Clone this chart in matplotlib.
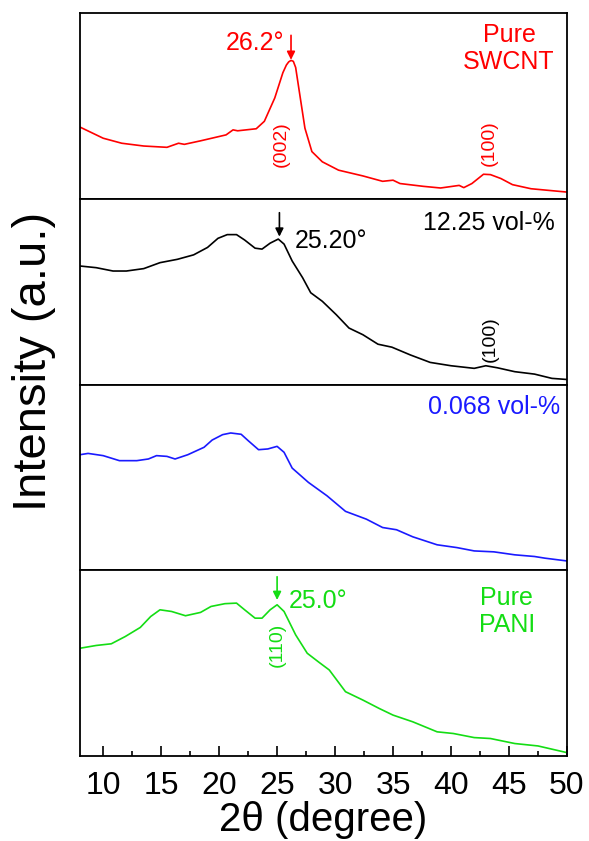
import numpy as np
import matplotlib
matplotlib.use("Agg")
import matplotlib.pyplot as plt
from matplotlib.ticker import MultipleLocator

plt.rcParams["font.family"] = ["Liberation Sans", "DejaVu Sans"]

# ---------------------------------------------------------------------------
# data (intensity in % of panel height)
# ---------------------------------------------------------------------------
swcnt_x = [8, 10, 11.6, 13.5, 15.5, 16.5, 17.0, 18.4, 20.6, 21.2, 21.6, 23.2, 23.9,
           24.8, 25.5, 25.8, 26.0, 26.2, 26.4, 26.6, 27.0, 27.4, 28.0, 28.9, 30.3,
           32.4, 34.1, 35.0, 35.6, 37.6, 39.1, 40.7, 41.1, 41.8, 42.8, 43.4, 44.3,
           45.3, 46.9, 50]
swcnt_y = [38.6, 32.6, 29.9, 28.4, 27.7, 29.9, 29.3, 31.2, 34.4, 37.1, 36.6, 37.7, 41.7,
           54.3, 67.9, 72.0, 73.7, 74.5, 74.0, 70.7, 54.3, 38.0, 25.4, 19.9, 15.4,
           12.3, 9.4, 10.0, 8.2, 6.7, 5.8, 7.2, 6.0, 8.2, 13.2, 13.0, 10.9,
           7.6, 5.4, 3.6]

c1225_x = [8, 9.4, 10.85, 12.0, 13.5, 14.9, 16.4, 17.8, 19.0, 19.9, 20.7, 21.5, 22.2,
           23.1, 23.7, 24.4, 25.1, 25.6, 26.3, 27.2, 27.9, 28.9, 30.1, 31.2, 32.4,
           33.7, 34.9, 36.5, 38.2, 40.0, 42.0, 43.0, 44.0, 45.5, 47.2, 48.7, 50]
c1225_y = [63.8, 62.9, 61.1, 61.1, 62.4, 65.6, 67.4, 69.8, 73.8, 78.7, 80.7, 80.7, 77.8,
           73.4, 72.9, 76.1, 78.3, 75.6, 66.5, 57.5, 49.4, 44.8, 37.6, 30.4, 26.8,
           21.7, 20.1, 15.9, 11.9, 10.1, 8.7, 10.1, 9.0, 6.9, 5.6, 3.3, 2.7]

c0068_x = [8, 8.7, 10.0, 11.4, 12.9, 13.9, 14.6, 15.5, 16.2, 17.3, 18.7, 19.4, 20.3,
           21.0, 21.9, 22.5, 23.4, 24.2, 25.0, 25.6, 26.3, 27.7, 29.3, 30.9, 32.7,
           34.1, 35.3, 36.7, 38.8, 40.5, 42.0, 43.7, 45.5, 47.2, 48.1, 50]
c0068_y = [62.2, 62.9, 61.7, 59.0, 59.0, 59.9, 61.7, 61.3, 59.9, 62.2, 66.2, 70.1, 73.0,
           73.9, 73.2, 69.8, 64.9, 65.3, 66.7, 63.5, 55.0, 47.3, 40.1, 31.7, 27.5,
           23.0, 21.8, 18.0, 13.7, 12.2, 10.4, 9.9, 8.3, 7.4, 6.5, 5.0]

pani_x = [8, 9.4, 10.7, 11.9, 13.2, 14.1, 14.9, 15.9, 17.1, 18.4, 19.3, 20.5, 21.5,
          22.2, 23.1, 23.7, 24.4, 25.0, 25.6, 26.6, 27.6, 28.6, 29.5, 30.9, 32.4,
          33.8, 35.0, 36.7, 38.8, 40.2, 42.0, 43.4, 45.5, 47.5, 50]
pani_y = [58.0, 59.5, 60.4, 64.3, 69.2, 75.1, 78.7, 77.8, 75.5, 77.3, 80.5, 82.0, 82.3,
          78.7, 74.2, 74.2, 78.7, 81.4, 77.8, 65.2, 55.3, 50.5, 46.3, 34.6, 30.1,
          25.6, 22.0, 18.4, 13.0, 12.1, 9.9, 9.4, 6.7, 5.4, 1.8]

RED, BLACK, BLUE, GREEN = "#ff0000", "#000000", "#1a1aff", "#14dd14"

fig, axes = plt.subplots(4, 1, sharex=True, figsize=(5.89, 8.41), dpi=100)
fig.subplots_adjust(left=0.1358, right=0.9626, top=0.9845, bottom=0.1011, hspace=0)

series = [(swcnt_x, swcnt_y, RED), (c1225_x, c1225_y, BLACK),
          (c0068_x, c0068_y, BLUE), (pani_x, pani_y, GREEN)]
for ax, (x, y, c) in zip(axes, series):
    ax.plot(x, y, color=c, lw=1.2)
    ax.set_xlim(8, 50)
    ax.set_ylim(0, 100)
    ax.set_yticks([])
    for sp in ax.spines.values():
        sp.set_linewidth(1.3)
    ax.tick_params(axis="x", which="both", bottom=False, labelbottom=False)

bot = axes[-1]
bot.xaxis.set_major_locator(MultipleLocator(5))
bot.xaxis.set_minor_locator(MultipleLocator(2.5))
bot.set_xticks(range(10, 51, 5))
bot.tick_params(axis="x", which="both", bottom=True, labelbottom=True, direction="in",
                labelsize=23, pad=11, width=1.2)
bot.tick_params(axis="x", which="major", length=7)
bot.tick_params(axis="x", which="minor", length=3.5)
bot.set_xlabel("2\u03b8 (degree)", fontsize=29, labelpad=0)
fig.text(0.058, 0.57, "Intensity (a.u.)", rotation=90, fontsize=34,
         ha="center", va="center")

arrow = dict(arrowstyle="-|>", lw=1.2, mutation_scale=12, shrinkA=0, shrinkB=0)
fs = 18

# pure SWCNT
ax = axes[0]
ax.text(45.0, 81, "Pure\nSWCNT", color=RED, fontsize=fs, ha="center", va="center",
        linespacing=1.15)
ax.text(25.6, 84, "26.2\u00b0", color=RED, fontsize=fs, ha="right", va="center")
ax.annotate("", xy=(26.2, 74.8), xytext=(26.2, 88), arrowprops=dict(arrow, color=RED))
ax.text(25.4, 29.5, "(002)", color=RED, fontsize=14, rotation=90, ha="center", va="center")
ax.text(43.3, 30, "(100)", color=RED, fontsize=14, rotation=90, ha="center", va="center")

# 12.25 vol-%
ax = axes[1]
ax.text(43.3, 87, "12.25 vol-%", color=BLACK, fontsize=fs, ha="center", va="center")
ax.text(26.5, 77, "25.20\u00b0", color=BLACK, fontsize=fs, ha="left", va="center")
ax.annotate("", xy=(25.2, 79.6), xytext=(25.2, 92.5), arrowprops=dict(arrow, color=BLACK))
ax.text(43.4, 24.6, "(100)", color=BLACK, fontsize=14, rotation=90, ha="center", va="center")

# 0.068 vol-%
ax = axes[2]
ax.text(43.7, 88, "0.068 vol-%", color=BLUE, fontsize=fs, ha="center", va="center")

# pure PANI
ax = axes[3]
ax.text(44.8, 78, "Pure\nPANI", color=GREEN, fontsize=fs, ha="center", va="center",
        linespacing=1.15)
ax.text(26.0, 83.5, "25.0\u00b0", color=GREEN, fontsize=fs, ha="left", va="center")
ax.annotate("", xy=(25.0, 84), xytext=(25.0, 96.5), arrowprops=dict(arrow, color=GREEN))
ax.text(25.0, 59.8, "(110)", color=GREEN, fontsize=14, rotation=90, ha="center", va="center")

fig.savefig("out.png", dpi=100)
